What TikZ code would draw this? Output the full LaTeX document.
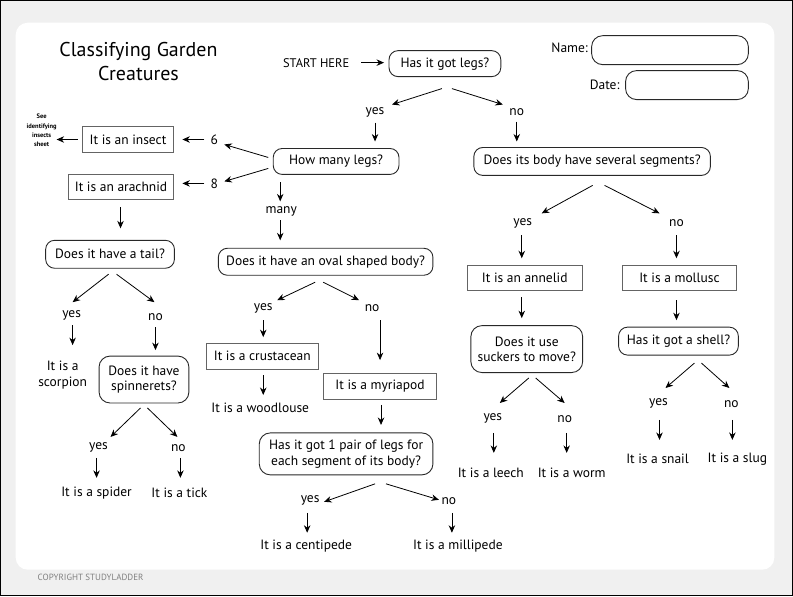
\documentclass[tikz,border=0pt]{standalone}
\usepackage{fontspec}
\setmainfont{PT Sans}
\usetikzlibrary{arrows.meta}
\definecolor{bggray}{RGB}{240,240,240}
\definecolor{boxgray}{RGB}{100,100,100}
\definecolor{qline}{RGB}{40,40,40}
\begin{document}
\begin{tikzpicture}[x=1pt,y=-1pt,
  every node/.style={font=\fontsize{13.5}{15.5}\selectfont, inner sep=0pt},
  qbox/.style={draw=qline, line width=0.9pt, rounded corners=9pt, align=center},
  rbox/.style={draw=boxgray, line width=1pt, align=center},
  lab/.style={align=center},
  arr/.style={draw=black, line width=0.8pt, -{Stealth[length=7.5pt,width=6.5pt]}}
]
% background and panel
\path[fill=bggray, draw=black, line width=1.5pt] (0,0) rectangle (793,596);
\path[fill=white, rounded corners=12pt] (15,22) rectangle (775,570);
\useasboundingbox (0,0) rectangle (793,596);

% title
\node[lab, font=\fontsize{20}{24}\selectfont] (title) at (138,61) {Classifying Garden\\Creatures};
\node[font=\fontsize{9}{10}\selectfont, text=gray] (copy) at (90,578) {COPYRIGHT STUDYLADDER};

% name / date
\node (namel) at (570,47) {Name:};
\node[qbox, minimum width=157pt, minimum height=29pt, rounded corners=11pt] (namebox) at (670.5,49.5) {};
\node (datel) at (605,84) {Date:};
\node[qbox, minimum width=123pt, minimum height=29pt, rounded corners=11pt] (datebox) at (687.5,84.5) {};

% top
\node[font=\fontsize{12.5}{14}\selectfont] (start) at (316,62) {START HERE};
\node[qbox, minimum width=112pt, minimum height=26pt] (legs) at (445,63) {Has it got legs?};
\node (yes1) at (375,112) {yes};
\node (no1) at (517,112) {no};
\node[qbox, minimum width=126pt, minimum height=26pt] (howmany) at (336,161) {How many legs?};
\node[qbox, minimum width=237pt, minimum height=28pt] (segments) at (592.5,161) {Does its body have several segments?};

% left branch
\node (six) at (214,139) {6};
\node (eight) at (214,183) {8};
\node[rbox, minimum width=91pt, minimum height=26pt] (insect) at (127.5,139) {It is an insect};
\node[rbox, minimum width=105pt, minimum height=25pt] (arachnid) at (120.5,186.5) {It is an arachnid};
\node[lab, font=\fontsize{6.5}{9.3}\selectfont\bfseries] (see) at (41,130) {See\\identifying\\insects\\sheet};
\node[qbox, minimum width=129pt, minimum height=28pt] (tail) at (109.5,254) {Does it have a tail?};
\node (yesT) at (71,315) {yes};
\node (noT) at (155,317) {no};
\node[lab] (scorpion) at (62,375) {It is a\\scorpion};
\node[qbox, minimum width=90pt, minimum height=47pt, rounded corners=11pt] (spinnerets) at (143.5,379.5) {Does it have\\spinnerets?};
\node (yesSp) at (98,448) {yes};
\node (noSp) at (178,448) {no};
\node (spider) at (96,493) {It is a spider};
\node (tick) at (179,493) {It is a tick};

% many branch
\node (many) at (281,211) {many};
\node[qbox, minimum width=215pt, minimum height=27pt] (oval) at (325.5,261.5) {Does it have an oval shaped body?};
\node (yesO) at (263,308) {yes};
\node (noO) at (372,308) {no};
\node[rbox, minimum width=112pt, minimum height=26pt] (crust) at (262,356) {It is a crustacean};
\node (woodlouse) at (260,408) {It is a woodlouse};
\node[rbox, minimum width=114pt, minimum height=26pt] (myriapod) at (380,386) {It is a myriapod};
\node[qbox, minimum width=174pt, minimum height=42pt, rounded corners=11pt] (pair) at (346,454) {Has it got 1 pair of legs for\\each segment of its body?};
\node (yesP) at (310,501) {yes};
\node (noP) at (449,501) {no};
\node (centipede) at (306,546) {It is a centipede};
\node (millipede) at (458,546) {It is a millipede};

% right branch
\node (yesS) at (523,223) {yes};
\node (noS) at (677,223) {no};
\node[rbox, minimum width=115pt, minimum height=25pt] (annelid) at (525,277.5) {It is an annelid};
\node[rbox, minimum width=114pt, minimum height=25pt] (mollusc) at (680,277.5) {It is a mollusc};
\node[qbox, minimum width=112pt, minimum height=47pt, rounded corners=11pt] (suckers) at (527,349) {Does it use\\suckers to move?};
\node[qbox, minimum width=120pt, minimum height=28pt] (shell) at (679,341) {Has it got a shell?};
\node (yesSu) at (493,418) {yes};
\node (noSu) at (565,419) {no};
\node (leech) at (491,473) {It is a leech};
\node (worm) at (572,473) {It is a worm};
\node (yesSh) at (659,403) {yes};
\node (noSh) at (732,404) {no};
\node (snail) at (658,459) {It is a snail};
\node (slug) at (738,459) {It is a slug};

% connectors
\draw[arr] ([shift={(45,0)}]start.center) -- ([shift={(-61,-1)}]legs.center);
\draw[arr] ([shift={(-3,25)}]legs.center) -- ([shift={(17,-8)}]yes1.center);
\draw[arr] ([shift={(7,25)}]legs.center) -- ([shift={(-14,-8)}]no1.center);
\draw[arr] ([shift={(0,10)}]yes1.center) -- ([shift={(39,-20)}]howmany.center);
\draw[arr] ([shift={(0,9)}]no1.center) -- ([shift={(-75.5,-20)}]segments.center);
\draw[arr] ([shift={(-68,-4)}]howmany.center) -- ([shift={(10,5)}]six.center);
\draw[arr] ([shift={(-68,7)}]howmany.center) -- ([shift={(10,-2)}]eight.center);
\draw[arr] ([shift={(-10,0)}]six.center) -- ([shift={(54.5,0)}]insect.center);
\draw[arr] ([shift={(-10,0)}]eight.center) -- ([shift={(61.5,-3.5)}]arachnid.center);
\draw[arr] ([shift={(-50.5,0)}]insect.center) -- ([shift={(15,9)}]see.center);
\draw[arr] ([shift={(-56,21)}]howmany.center) -- ([shift={(-1,-10)}]many.center);
\draw[arr] ([shift={(-1,9)}]many.center) -- ([shift={(-45.5,-21.5)}]oval.center);
\draw[arr] ([shift={(-0.5,20.5)}]arachnid.center) -- ([shift={(10.5,-26)}]tail.center);
\draw[arr] ([shift={(-1.5,20)}]tail.center) -- ([shift={(1,-13)}]yesT.center);
\draw[arr] ([shift={(6.5,20)}]tail.center) -- ([shift={(-1,-15)}]noT.center);
\draw[arr] ([shift={(1,10)}]yesT.center) -- ([shift={(10,-30)}]scorpion.center);
\draw[arr] ([shift={(0,10)}]noT.center) -- ([shift={(11.5,-29.5)}]spinnerets.center);
\draw[arr] ([shift={(-3.5,28.5)}]spinnerets.center) -- ([shift={(12,-11)}]yesSp.center);
\draw[arr] ([shift={(3.5,28.5)}]spinnerets.center) -- ([shift={(-1,-11)}]noSp.center);
\draw[arr] ([shift={(-2,10)}]yesSp.center) -- ([shift={(0,-15)}]spider.center);
\draw[arr] ([shift={(2,10)}]noSp.center) -- ([shift={(1,-15)}]tick.center);
\draw[arr] ([shift={(-10.5,20.5)}]oval.center) -- ([shift={(14,-8)}]yesO.center);
\draw[arr] ([shift={(-2.5,20.5)}]oval.center) -- ([shift={(-13,-8)}]noO.center);
\draw[arr] ([shift={(0,12)}]yesO.center) -- ([shift={(1,-19)}]crust.center);
\draw[arr] ([shift={(8,12)}]noO.center) -- ([shift={(0,-26)}]myriapod.center);
\draw[arr] ([shift={(1,19)}]crust.center) -- ([shift={(3,-13)}]woodlouse.center);
\draw[arr] ([shift={(1,19)}]myriapod.center) -- ([shift={(35,-29)}]pair.center);
\draw[arr] ([shift={(29,30)}]pair.center) -- ([shift={(14,1)}]yesP.center);
\draw[arr] ([shift={(40,30)}]pair.center) -- ([shift={(-10,-1)}]noP.center);
\draw[arr] ([shift={(-3,12)}]yesP.center) -- ([shift={(1,-13)}]centipede.center);
\draw[arr] ([shift={(3,12)}]noP.center) -- ([shift={(-6,-13)}]millipede.center);
\draw[arr] ([shift={(0.5,24)}]segments.center) -- ([shift={(19,-10)}]yesS.center);
\draw[arr] ([shift={(12.5,24)}]segments.center) -- ([shift={(-17,-10)}]noS.center);
\draw[arr] ([shift={(-1,12)}]yesS.center) -- ([shift={(-3,-19.5)}]annelid.center);
\draw[arr] ([shift={(0,12)}]noS.center) -- ([shift={(-3,-19.5)}]mollusc.center);
\draw[arr] ([shift={(-3,19.5)}]annelid.center) -- ([shift={(-5,-31)}]suckers.center);
\draw[arr] ([shift={(-3,22.5)}]mollusc.center) -- ([shift={(-2,-21)}]shell.center);
\draw[arr] ([shift={(2,29)}]suckers.center) -- ([shift={(7,-15)}]yesSu.center);
\draw[arr] ([shift={(9,29)}]suckers.center) -- ([shift={(0,-16)}]noSu.center);
\draw[arr] ([shift={(1,15)}]yesSu.center) -- ([shift={(3,-20)}]leech.center);
\draw[arr] ([shift={(2,14)}]noSu.center) -- ([shift={(-5,-20)}]worm.center);
\draw[arr] ([shift={(16,22)}]shell.center) -- ([shift={(7,-15)}]yesSh.center);
\draw[arr] ([shift={(23,22)}]shell.center) -- ([shift={(-2,-16)}]noSh.center);
\draw[arr] ([shift={(1,17)}]yesSh.center) -- ([shift={(2,-19)}]snail.center);
\draw[arr] ([shift={(1,16)}]noSh.center) -- ([shift={(-5,-19)}]slug.center);
\end{tikzpicture}
\end{document}
